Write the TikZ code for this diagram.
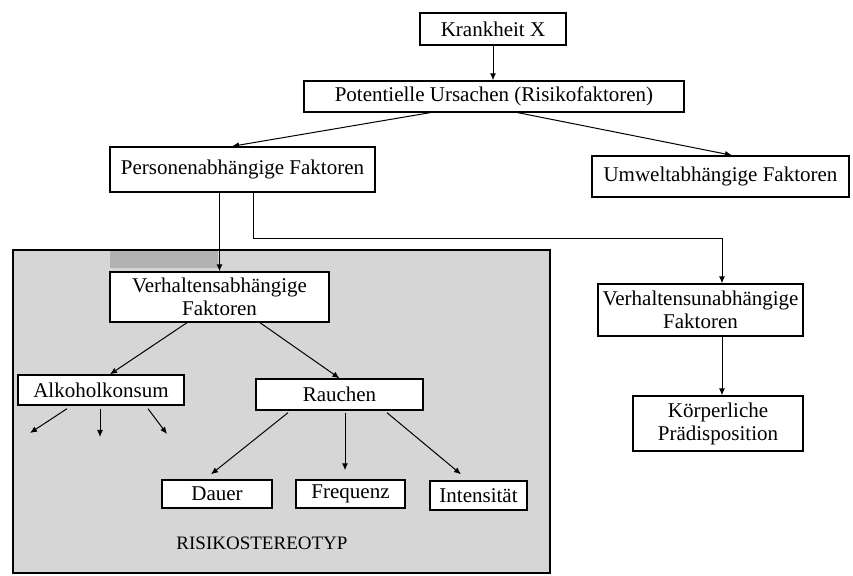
\documentclass[tikz,border=0pt]{standalone}
\usepackage{fontspec}
\setmainfont{Liberation Serif}
\usetikzlibrary{arrows.meta,calc}
\begin{document}
\begin{tikzpicture}[x=0.5pt,y=-0.5pt,
  box/.style={draw, line width=0.7pt, fill=white, inner sep=1pt, align=center, font=\fontsize{10.5}{11.5}\selectfont},
  arr/.style={line width=0.5pt, -{Latex[length=3.5pt,width=3pt]}},
  con/.style={line width=0.5pt}]
\useasboundingbox (0,0) rectangle (853,576);
\fill[white] (0,0) rectangle (853,576);
% shaded region
\draw[fill=black!16, line width=0.6pt] (13,250) rectangle (550,573);
\fill[black!30] (110,251) rectangle (218,268);
% nodes
\node[box, minimum width=73pt, minimum height=16pt] (k) at (493,29) {Krankheit X};
\node[box, minimum width=190pt, minimum height=15.5pt] (p) at (494,96.5) {Potentielle Ursachen (Risikofaktoren)};
\node[box, minimum width=132.5pt, minimum height=22.5pt] (pers) at (242.5,169.5) {Personenabhängige Faktoren};
\node[box, minimum width=128.5pt, minimum height=20.5pt] (um) at (720.5,176.5) {Umweltabhängige Faktoren};
\node[box, minimum width=109.5pt, minimum height=25pt] (vab) at (219.5,297) {Verhaltensabhängige\\Faktoren};
\node[box, minimum width=102.5pt, minimum height=26pt] (vu) at (700.5,310) {Verhaltensunabhängige\\Faktoren};
\node[box, minimum width=85pt, minimum height=27.5pt] (kp) at (718,423.5) {Körperliche\\Prädisposition};
\node[box, minimum width=83pt, minimum height=15pt] (alk) at (101,390) {Alkoholkonsum};
\node[box, minimum width=83.5pt, minimum height=15.5pt] (rau) at (339.5,394.5) {Rauchen};
\node[box, minimum width=55pt, minimum height=14pt] (dau) at (217,494) {Dauer};
\node[box, minimum width=54.5pt, minimum height=14pt] (fre) at (350.5,494) {Frequenz};
\node[box, minimum width=48.5pt, minimum height=14.5pt] (int) at (478.5,495.5) {Intensität};
\node[font=\fontsize{9.5}{11}\selectfont, inner sep=0pt] (rs) at (262,543) {RISIKOSTEREOTYP};
% coordinates
\coordinate (j) at (722,239);
\coordinate (a1) at (30,433);
\coordinate (a2) at (100,437);
\coordinate (a3) at (167,434);
% connectors
\draw[arr] (k.south) -- (k.south |- p.north);
\draw[arr] ($(p.south)+(-64,0)$) -- ($(pers.north)+(-10.5,0)$);
\draw[arr] ($(p.south)+(24,0)$) -- ($(um.north)+(11.5,0)$);
\draw[arr] (pers.south -| vab.north) -- (vab.north);
\draw[arr] ($(pers.south)+(10.5,0)$) |- (j) -- (j |- vu.north);
\draw[arr] (j |- vu.south) -- (j |- kp.north);
\draw[arr] ($(vab.south)+(-32.5,0)$) -- ($(alk.north)+(9,0)$);
\draw[arr] ($(vab.south)+(40.5,0)$) -- (rau.north);
\draw[arr] ($(alk.south)+(-34,3)$) -- (a1);
\draw[arr] ($(alk.south)+(-1,3)$) -- (a2);
\draw[arr] ($(alk.south)+(47,3)$) -- (a3);
\draw[arr] ($(rau.south)+(-51.5,2)$) -- ($(dau.north)+(-6,-5)$);
\draw[arr] ($(rau.south)+(5.5,2)$) -- ($(fre.north)+(-5.5,-9)$);
\draw[arr] ($(rau.south)+(47.5,2)$) -- ($(int.north)+(-17.5,-6)$);
\end{tikzpicture}
\end{document}
